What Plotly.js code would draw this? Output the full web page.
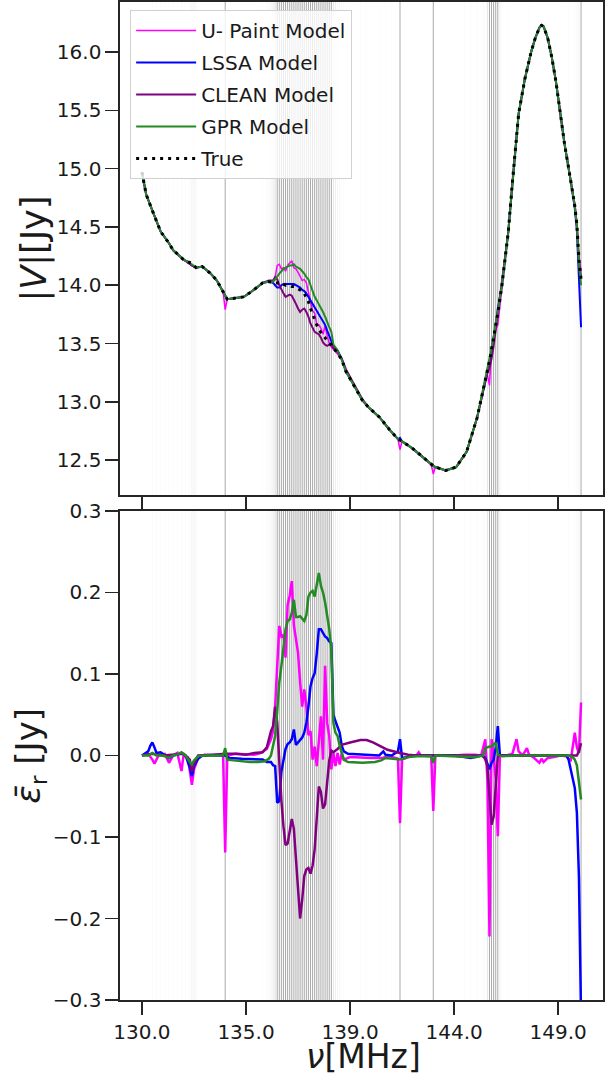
<!DOCTYPE html>
<html>
<head>
<meta charset="utf-8">
<script src="https://cdn.plot.ly/plotly-3.0.1.min.js"></script>
<style>html,body{margin:0;padding:0;background:#fff;}#chart{width:611px;height:1077px;}</style>
</head>
<body>
<div id="chart"></div>
<script>
// ---------------- data ----------------
// x positions are channel indices; tick labels give the frequency in MHz
const tickChannels = [0, 50, 100, 150, 200];
const tickLabels = ["130.0", "135.0", "139.0", "144.0", "149.0"];

const seriesNames = ["U- Paint Model", "LSSA Model", "CLEAN Model", "GPR Model", "True"];
const axisTitles = {top: "|<i>V</i>|[Jy]", bottom: "<i>ε̄</i><sub>r</sub> [Jy]", x: "<i>ν</i>[MHz]"};

// top panel |V| [Jy]
const chanTop = [
  0,2,5,9,13,15,20,22,24,26,
  29,33,36,39,40,41,45,49,53,56,
  58,61,63,64,65,66,67,68,69,70,
  71,72,73,74,75,76,77,78,79,80,
  81,82,83,84,85,86,87,88,89,90,
  91,92,94,96,98,101,106,109,114,119,
  123,124,125,130,136,139,140,141,146,151,
  156,161,165,166,167,168,169,170,171,173,
  176,178,181,184,187,189,191,192,193,195,
  197,199,201,203,206,208,209,210,211];

const trueTop = [
  14.97,14.78,14.64,14.46,14.36,14.30,14.22,14.20,14.19,14.15,
  14.16,14.10,14.04,13.94,13.90,13.88,13.89,13.90,13.95,13.99,
  14.02,14.03,14.02,14.02,14.02,14.02,14.02,14.01,14.00,14.00,
  14.00,13.99,13.99,13.98,13.97,13.96,13.95,13.93,13.90,13.86,
  13.80,13.75,13.70,13.66,13.62,13.59,13.57,13.55,13.52,13.50,
  13.49,13.46,13.42,13.36,13.26,13.17,13.01,12.95,12.87,12.76,
  12.68,12.67,12.66,12.60,12.51,12.46,12.45,12.44,12.41,12.44,
  12.57,12.86,13.18,13.26,13.35,13.45,13.55,13.65,13.76,14.00,
  14.45,14.88,15.47,15.77,16.00,16.12,16.21,16.23,16.22,16.12,
  15.95,15.74,15.48,15.22,14.90,14.68,14.52,14.22,14.05];

const upaintTop = [
  14.97,14.78,14.64,14.46,14.36,14.30,14.22,14.19,14.17,14.15,
  14.16,14.10,14.04,13.94,13.79,13.88,13.89,13.90,13.95,13.99,
  14.02,14.03,14.03,14.07,14.17,14.18,14.14,14.15,14.12,14.17,
  14.19,14.21,14.15,14.14,14.11,14.07,14.04,14.05,14.02,13.94,
  13.87,13.78,13.76,13.66,13.66,13.63,13.58,13.65,13.57,13.50,
  13.47,13.45,13.41,13.36,13.26,13.17,13.01,12.95,12.87,12.76,
  12.68,12.59,12.66,12.60,12.51,12.46,12.38,12.44,12.41,12.44,
  12.57,12.86,13.20,13.23,13.14,13.47,13.55,13.62,13.66,14.00,
  14.45,14.88,15.47,15.77,16.00,16.12,16.21,16.23,16.22,16.12,
  15.95,15.74,15.48,15.22,14.90,14.70,14.53,14.23,14.12];

const lssaTop = [
  14.97,14.78,14.64,14.46,14.36,14.30,14.22,14.20,14.17,14.15,
  14.16,14.10,14.04,13.94,13.90,13.88,13.89,13.90,13.95,13.99,
  14.02,14.03,14.02,14.00,13.98,13.98,14.00,14.01,14.01,14.01,
  14.01,14.01,14.01,14.00,13.99,13.98,13.96,13.95,13.93,13.90,
  13.87,13.84,13.80,13.77,13.75,13.72,13.69,13.66,13.61,13.56,
  13.52,13.48,13.44,13.37,13.26,13.17,13.01,12.95,12.87,12.76,
  12.68,12.69,12.66,12.60,12.51,12.46,12.45,12.44,12.41,12.44,
  12.57,12.86,13.18,13.25,13.33,13.44,13.54,13.66,13.80,14.00,
  14.45,14.88,15.47,15.77,16.00,16.12,16.21,16.23,16.22,16.12,
  15.95,15.74,15.48,15.22,14.90,14.66,14.47,14.10,13.64];

const cleanTop = [
  14.97,14.78,14.64,14.46,14.36,14.30,14.22,14.20,14.17,14.15,
  14.16,14.10,14.04,13.94,13.90,13.88,13.89,13.90,13.95,13.99,
  14.02,14.04,14.04,14.07,14.05,14.00,13.96,13.93,13.90,13.91,
  13.92,13.91,13.88,13.84,13.80,13.77,13.79,13.80,13.77,13.73,
  13.67,13.63,13.60,13.59,13.58,13.55,13.51,13.49,13.48,13.49,
  13.49,13.46,13.43,13.37,13.28,13.18,13.02,12.95,12.87,12.76,
  12.68,12.67,12.66,12.60,12.51,12.46,12.45,12.44,12.41,12.44,
  12.57,12.86,13.18,13.25,13.29,13.37,13.48,13.62,13.76,14.00,
  14.45,14.88,15.47,15.77,16.00,16.12,16.21,16.23,16.22,16.12,
  15.95,15.74,15.48,15.22,14.90,14.68,14.52,14.22,14.07];

const gprTop = [
  14.97,14.78,14.64,14.46,14.36,14.30,14.22,14.20,14.18,14.15,
  14.16,14.10,14.04,13.94,13.91,13.88,13.89,13.90,13.95,13.99,
  14.02,14.03,14.03,14.05,14.08,14.10,14.12,14.14,14.15,14.16,
  14.17,14.17,14.18,14.16,14.15,14.14,14.12,14.10,14.07,14.05,
  14.00,13.95,13.90,13.87,13.84,13.80,13.77,13.73,13.68,13.64,
  13.60,13.49,13.44,13.36,13.26,13.17,13.01,12.95,12.87,12.76,
  12.68,12.67,12.66,12.60,12.51,12.46,12.45,12.44,12.41,12.44,
  12.57,12.86,13.19,13.27,13.36,13.46,13.56,13.67,13.76,14.00,
  14.45,14.88,15.47,15.77,16.00,16.12,16.21,16.23,16.22,16.12,
  15.95,15.74,15.48,15.22,14.90,14.68,14.51,14.19,14.00];

// bottom panel: mean residual [Jy], as [channel, value]
const upaintRes = [[0,0],[3,0.002],[5,-0.005],[6,-0.01],[8,0],[11,0.002],[13,-0.009],[15,0],[17,0.003],[19,-0.019],[20,0],[22,-0.002],[24,-0.036],[25,-0.017],[27,-0.003],[30,0.001],[35,0],[39,0],[40,-0.119],[41,0],[45,0.002],[50,0.001],[54,0.001],[57,0.003],[60,0.008],[62,0.02],[63,0.03],[64,0.06],[65,0.12],[66,0.159],[67,0.146],[68,0.148],[69,0.12],[70,0.185],[71,0.196],[72,0.214],[73,0.16],[74,0.142],[75,0.126],[76,0.09],[77,0.06],[78,0.081],[79,0.06],[80,0.025],[81,0.03],[82,-0.005],[83,0.011],[84,-0.013],[85,0.02],[86,0.048],[87,-0.005],[88,0.11],[89,0.04],[90,0.024],[91,-0.017],[92,0.003],[93,-0.013],[94,0.003],[95,-0.011],[96,0.003],[97,-0.005],[100,-0.002],[110,-0.003],[116,-0.003],[118,0],[121,-0.002],[123,-0.004],[124,-0.083],[125,-0.005],[128,-0.002],[132,0],[133,0.004],[134,0],[139,-0.001],[140,-0.068],[141,0],[145,0],[150,0],[155,0.001],[160,0.001],[163,0],[165,0.02],[166,-0.03],[167,-0.222],[168,0.02],[169,0],[170,-0.03],[171,-0.099],[172,0],[175,0],[178,0.002],[180,0.02],[181,0.005],[183,0],[185,0.009],[186,0.001],[188,-0.002],[190,-0.007],[191,-0.009],[192,-0.004],[193,-0.008],[195,-0.003],[198,-0.002],[201,0],[204,-0.001],[206,-0.007],[207,0.01],[208,0.028],[209,0.01],[210,0.003],[211,0.065]];

const lssaRes = [[0,0],[3,0.005],[4,0.012],[5,0.016],[6,0.01],[7,0.003],[9,0.004],[11,0],[13,-0.003],[15,0],[17,0.001],[19,0.003],[21,0],[23,-0.015],[24,-0.025],[25,-0.013],[27,-0.004],[29,0],[35,0.001],[40,0],[42,-0.003],[48,-0.004],[55,-0.005],[58,-0.005],[60,-0.008],[62,-0.008],[63,-0.012],[64,-0.013],[65,-0.058],[66,-0.056],[67,-0.02],[68,-0.005],[69,0.008],[70,0.014],[71,0.016],[72,0.02],[73,0.032],[74,0.013],[75,0.016],[76,0.018],[77,0.022],[78,0.028],[79,0.04],[80,0.06],[81,0.085],[82,0.095],[83,0.101],[84,0.125],[85,0.155],[86,0.155],[87,0.15],[88,0.146],[89,0.144],[90,0.14],[91,0.138],[92,0.05],[93,0.042],[94,0.035],[95,0.028],[96,0.012],[97,0.005],[99,0.002],[105,0.001],[110,0],[114,0],[116,0.005],[117,0.001],[120,0],[123,0.005],[124,0.02],[125,-0.003],[127,-0.002],[130,0],[140,0],[150,0],[158,-0.003],[163,0],[165,-0.003],[166,-0.01],[167,-0.017],[168,-0.009],[169,-0.005],[170,0.01],[171,0.036],[172,0],[175,0],[190,0],[200,0],[204,0],[205,-0.005],[206,-0.018],[207,-0.028],[208,-0.04],[209,-0.07],[210,-0.15],[211,-0.32]];

const cleanRes = [[0,0],[5,0.002],[10,0],[15,0.001],[20,0.002],[23,-0.005],[24,-0.02],[25,-0.01],[27,0],[35,0.001],[40,0.002],[45,0.002],[50,0.001],[54,0.003],[58,0.004],[59,0.007],[60,0.01],[61,0.02],[62,0.03],[63,0.036],[64,0.06],[65,0.04],[66,-0.01],[67,-0.055],[68,-0.087],[69,-0.11],[70,-0.108],[71,-0.095],[72,-0.078],[73,-0.09],[74,-0.125],[75,-0.168],[76,-0.2],[77,-0.177],[78,-0.148],[79,-0.14],[80,-0.138],[81,-0.145],[82,-0.135],[83,-0.115],[84,-0.07],[85,-0.038],[86,-0.045],[87,-0.065],[88,-0.06],[89,-0.035],[90,-0.006],[91,0.006],[92,0.004],[94,0.008],[96,0.013],[100,0.016],[105,0.019],[108,0.019],[111,0.016],[115,0.011],[118,0.007],[124,0.003],[128,0.001],[132,0],[150,0],[164,0],[165,-0.005],[166,-0.013],[167,-0.05],[168,-0.085],[169,-0.075],[170,-0.035],[171,0],[180,0],[200,0],[209,0],[210,0.005],[211,0.015]];

const gprRes = [[0,0],[3,0],[5,0.003],[7,0],[10,0],[13,-0.003],[15,0],[17,0.001],[19,0.004],[21,0],[23,-0.008],[24,-0.011],[25,-0.006],[27,-0.001],[30,0],[39,0],[40,0.009],[41,-0.005],[44,-0.006],[48,-0.007],[52,-0.008],[56,-0.008],[59,-0.007],[61,-0.004],[62,0],[63,0.012],[64,0.024],[65,0.055],[66,0.09],[67,0.11],[68,0.135],[69,0.155],[70,0.165],[71,0.167],[72,0.175],[73,0.191],[74,0.17],[75,0.17],[76,0.171],[77,0.168],[78,0.165],[79,0.172],[80,0.195],[81,0.2],[82,0.202],[83,0.195],[84,0.212],[85,0.224],[86,0.208],[87,0.2],[88,0.188],[89,0.172],[90,0.155],[91,0.13],[92,0.04],[93,0.028],[94,0.024],[95,0.012],[96,0.004],[97,-0.005],[99,-0.008],[106,-0.009],[112,-0.008],[115,-0.006],[117,-0.003],[120,-0.004],[124,-0.005],[128,-0.002],[132,-0.001],[139,-0.001],[140,-0.009],[141,0],[150,-0.001],[160,-0.002],[164,0],[165,0.009],[166,0.01],[167,0.011],[168,0.011],[169,0.013],[170,0.016],[171,0.001],[173,-0.001],[180,0],[190,0],[200,0],[205,0],[207,-0.002],[208,-0.005],[209,-0.012],[210,-0.03],[211,-0.054]];

// flagged channels and the fraction of data flagged there
const flagChan = [5,7,9,11,13,15,17,19,21,23,24,25,26,40,58,60,61,62,63,64,
  65,66,67,68,69,70,71,72,73,74,75,76,77,78,79,80,81,82,83,84,85,86,87,88,89,90,91,
  92,93,94,95,96,97,105,108,111,114,117,120,124,140,155,158,161,164,166,
  167,168,169,170,171,172,173,176,186,202,205,208,209,210,211];
const flagFrac = [0.05,0.05,0.04,0.05,0.05,0.06,0.05,0.06,0.06,0.08,0.15,0.18,0.10,1,0.05,0.08,0.10,0.15,0.25,0.40,
  1,1,1,1,1,1,1,1,1,1,1,1,1,1,1,1,1,1,1,1,1,1,1,1,1,1,1,
  0.30,0.20,0.12,0.08,0.06,0.05,0.04,0.04,0.03,0.03,0.04,0.03,1,1,0.04,0.04,0.05,0.08,0.30,
  1,1,1,1,1,0.20,0.05,0.04,0.04,0.03,0.05,0.06,0.08,0.15,1];

// ---------------- figure ----------------
const colors = {upaint: "#ff00ff", lssa: "#0000ff", clean: "#800080", gpr: "#228b22", truth: "#000000"};
const FONT = "DejaVu Sans, Liberation Sans, sans-serif";
const INK = "#1a1a1a";
const xs = p => p.map(d => d[0]);
const ys = p => p.map(d => d[1]);

const traces = [
  {x: chanTop, y: upaintTop, name: seriesNames[0], legendgroup: "a", mode: "lines", line: {color: colors.upaint, width: 1.5}, xaxis: "x", yaxis: "y"},
  {x: chanTop, y: lssaTop, name: seriesNames[1], legendgroup: "b", mode: "lines", line: {color: colors.lssa, width: 2}, xaxis: "x", yaxis: "y"},
  {x: chanTop, y: cleanTop, name: seriesNames[2], legendgroup: "c", mode: "lines", line: {color: colors.clean, width: 2}, xaxis: "x", yaxis: "y"},
  {x: chanTop, y: gprTop, name: seriesNames[3], legendgroup: "d", mode: "lines", line: {color: colors.gpr, width: 2}, xaxis: "x", yaxis: "y"},
  {x: chanTop, y: trueTop, name: seriesNames[4], legendgroup: "e", mode: "lines", line: {color: colors.truth, width: 3, dash: "3px,5px"}, xaxis: "x", yaxis: "y"},
  {x: xs(upaintRes), y: ys(upaintRes), name: seriesNames[0], mode: "lines", line: {color: colors.upaint, width: 2.5}, xaxis: "x2", yaxis: "y2", showlegend: false},
  {x: xs(lssaRes), y: ys(lssaRes), name: seriesNames[1], mode: "lines", line: {color: colors.lssa, width: 2.5}, xaxis: "x2", yaxis: "y2", showlegend: false},
  {x: xs(cleanRes), y: ys(cleanRes), name: seriesNames[2], mode: "lines", line: {color: colors.clean, width: 2.5}, xaxis: "x2", yaxis: "y2", showlegend: false},
  {x: xs(gprRes), y: ys(gprRes), name: seriesNames[3], mode: "lines", line: {color: colors.gpr, width: 2.5}, xaxis: "x2", yaxis: "y2", showlegend: false}
];

const shapes = [];
["x", "x2"].forEach((xr, i) => {
  const yr = i === 0 ? "y domain" : "y2 domain";
  flagChan.forEach((c, k) => {
    shapes.push({type: "line", layer: "below", xref: xr, yref: yr, x0: c, x1: c, y0: 0, y1: 1,
      line: {color: "rgba(0,0,0," + (0.34 * flagFrac[k]).toFixed(3) + ")", width: 1.0}});
  });
});

const XRANGE = [-10.55, 221.55];
const TOP_DOMAIN = [0.506, 1];
const BOTTOM_DOMAIN = [0, 0.49];
const frame = {showline: true, linecolor: "#262626", linewidth: 1.6, mirror: true, showgrid: false, zeroline: false,
  ticks: "outside", ticklen: 13, tickwidth: 1.5, tickcolor: "#262626", tickfont: {family: FONT, size: 20, color: INK}};

const annotations = [
  {text: axisTitles.top, xref: "paper", yref: "paper", x: -0.176, y: (TOP_DOMAIN[0] + TOP_DOMAIN[1]) / 2,
   xanchor: "center", yanchor: "middle", textangle: -90, showarrow: false, font: {family: FONT, size: 35, color: INK}},
  {text: axisTitles.bottom, xref: "paper", yref: "paper", x: -0.186, y: (BOTTOM_DOMAIN[0] + BOTTOM_DOMAIN[1]) / 2,
   xanchor: "center", yanchor: "middle", textangle: -90, showarrow: false, font: {family: FONT, size: 34, color: INK}},
  {text: axisTitles.x, xref: "paper", yref: "paper", x: 0.505, y: -0.0565,
   xanchor: "center", yanchor: "middle", showarrow: false, font: {family: FONT, size: 33, color: INK}}
];

const layout = {
  width: 611, height: 1077,
  margin: {l: 120, r: 8, t: 2, b: 77},
  paper_bgcolor: "#ffffff", plot_bgcolor: "#ffffff",
  font: {family: FONT, size: 20, color: INK},
  showlegend: true,
  legend: {x: 0.021, y: 0.992, xanchor: "left", yanchor: "top", bgcolor: "rgba(255,255,255,0.8)",
    bordercolor: "#d0d0d0", borderwidth: 1, font: {family: FONT, size: 20, color: INK},
    tracegroupgap: 3, itemwidth: 60},
  xaxis: Object.assign({}, frame, {domain: [0, 1], anchor: "y", range: XRANGE, tickvals: tickChannels, ticktext: tickLabels, showticklabels: false}),
  yaxis: Object.assign({}, frame, {domain: TOP_DOMAIN, anchor: "x", range: [12.2, 16.43], tick0: 12.5, dtick: 0.5, tickformat: ".1f"}),
  xaxis2: Object.assign({}, frame, {domain: [0, 1], anchor: "y2", range: XRANGE, tickvals: tickChannels, ticktext: tickLabels}),
  yaxis2: Object.assign({}, frame, {domain: BOTTOM_DOMAIN, anchor: "x2", range: [-0.3, 0.3], tick0: 0, dtick: 0.1, tickformat: ".1f"}),
  annotations: annotations,
  shapes: shapes
};

Plotly.newPlot("chart", traces, layout, {displayModeBar: false, staticPlot: true});
</script>
</body>
</html>
